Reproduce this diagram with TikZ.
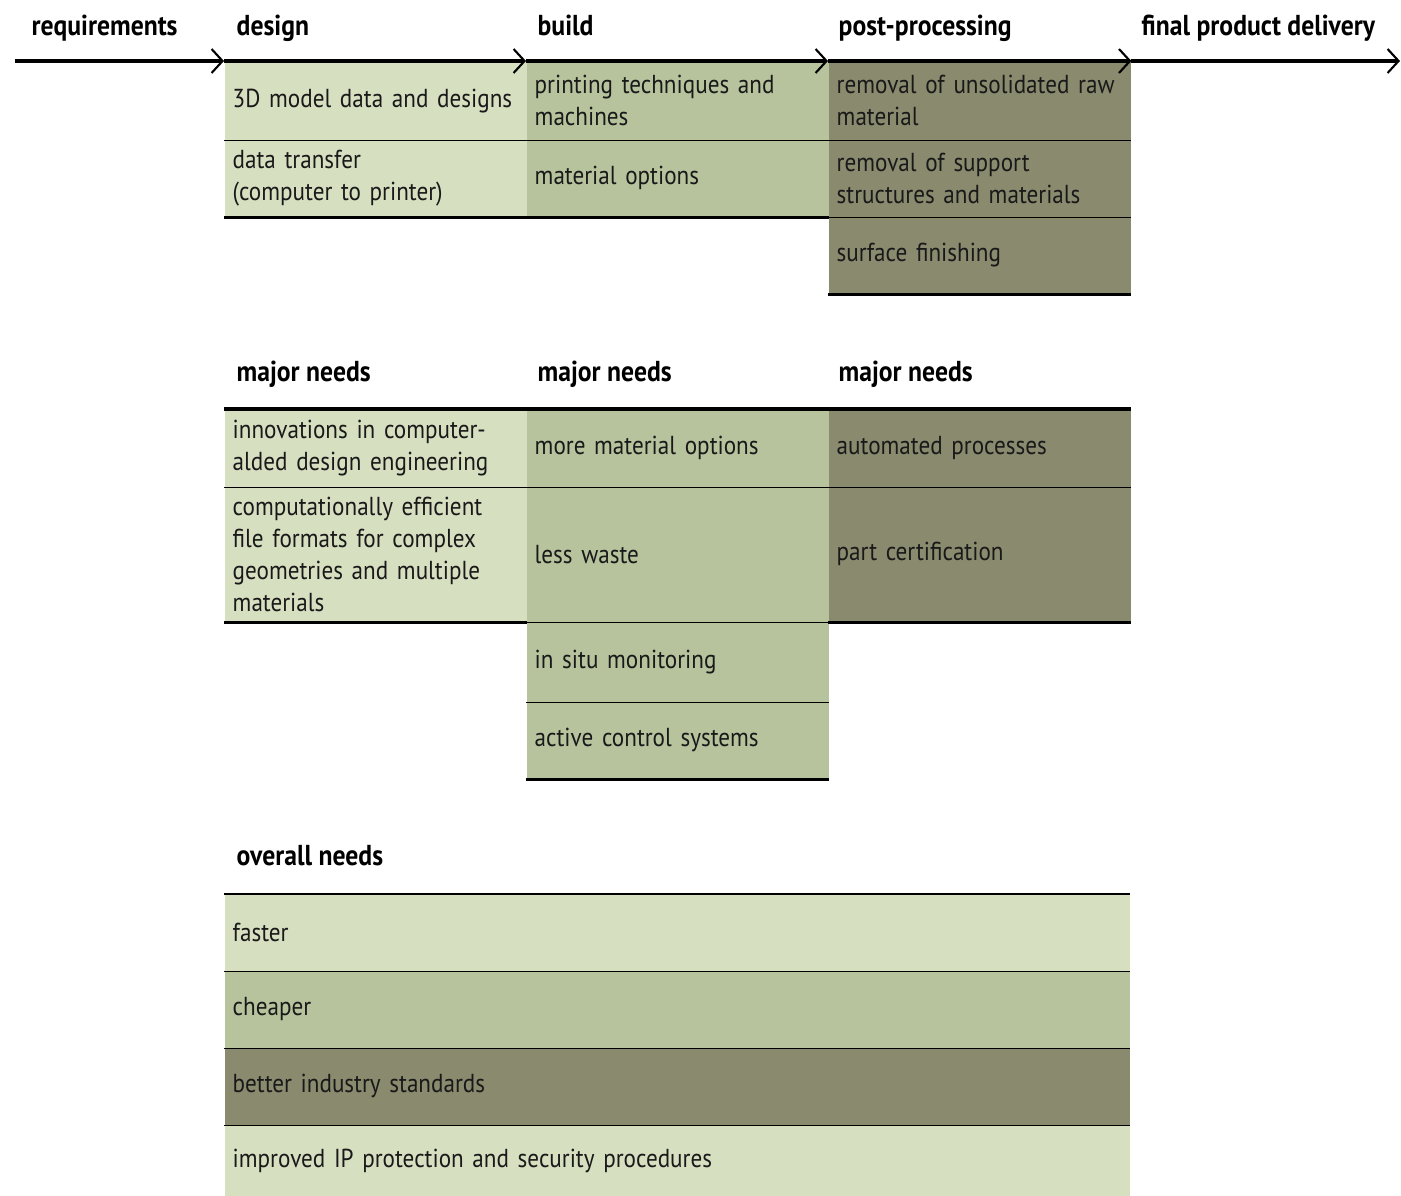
\documentclass[tikz,border=0pt]{standalone}
\usepackage{fontspec}
\setmainfont{PT Sans}[FakeStretch=0.89]
\usetikzlibrary{arrows.meta, positioning}

\definecolor{lightgreen}{RGB}{215,223,193}
\definecolor{midgreen}{RGB}{182,195,157}
\definecolor{darkgreen}{RGB}{138,138,110}

\newcommand{\cellfont}{\fontsize{7.4}{9.1}\selectfont\hyphenpenalty=10000\relax\exhyphenpenalty=10000\relax}
\newcommand{\hdfont}{\fontsize{8.2}{9}\selectfont\bfseries}

\begin{document}
\begin{tikzpicture}[>={Straight Barb[length=1.1mm, width=2.4mm, line width=0.6pt]},
      cell/.style={rectangle, anchor=north west, minimum width=3.02cm,
                   text width=2.86cm, inner xsep=0.08cm, inner ysep=0pt,
                   align=left, text=black!90, font=\cellfont},
      wide/.style={cell, minimum width=9.05cm, text width=8.89cm},
      light/.style={fill=lightgreen},
      mid/.style={fill=midgreen},
      dark/.style={fill=darkgreen},
      hd/.style={anchor=base west, inner sep=0pt, font=\hdfont},
      sep/.style={line width=0.45pt},
      edge/.style={line width=0.9pt}]

    \useasboundingbox (0,0) rectangle (14.01,-11.96);

    % --- phase headers ---
    \node[hd] (hreq)   at (0.31,-0.36) {requirements};
    \node[hd] (hdes)   at (2.36,-0.36) {design};
    \node[hd] (hbuild) at (5.37,-0.36) {build};
    \node[hd] (hpost)  at (8.38,-0.36) {post-processing};
    \node[hd] (hfinal) at (11.41,-0.36) {final product delivery};

    % --- process steps ---
    \node[cell, light, minimum height=0.78cm] (d1) at (2.24,-0.61) {3D model data and designs};
    \node[cell, light, minimum height=0.77cm] (d2) at (2.24,-1.39) {data transfer\\(computer to printer)};
    \node[cell, mid,   minimum height=0.78cm] (b1) at (5.26,-0.61) {printing techniques and\\machines};
    \node[cell, mid,   minimum height=0.77cm] (b2) at (5.26,-1.39) {material options};
    \node[cell, dark,  minimum height=0.78cm] (p1) at (8.28,-0.61) {removal of unsolidated raw\\material};
    \node[cell, dark,  minimum height=0.77cm] (p2) at (8.28,-1.39) {removal of support\\structures and materials};
    \node[cell, dark,  minimum height=0.77cm] (p3) at (8.28,-2.16) {surface finishing};

    % timeline
    \coordinate (tstart) at (0.15,-0.61);
    \coordinate (tend)   at (14.0,-0.61);
    \draw[edge, ->] (tstart) -- (d1.north west);
    \draw[edge, ->] (d1.north west) -- (b1.north west);
    \draw[edge, ->] (b1.north west) -- (p1.north west);
    \draw[edge, ->] (p1.north west) -- (p1.north east);
    \draw[edge, ->] (p1.north east) -- (tend);

    \draw[sep]  (d1.south west) -- (p1.south east);
    \draw[edge] (d2.south west) -- (b2.south east);
    \draw[sep]  (p2.south west) -- (p2.south east);
    \draw[edge] (p3.south west) -- (p3.south east);

    % --- major needs ---
    \node[hd] (mdes)   at (2.36,-3.82) {major needs};
    \node[hd] (mbuild) at (5.37,-3.82) {major needs};
    \node[hd] (mpost)  at (8.38,-3.82) {major needs};

    \node[cell, light, minimum height=0.77cm] (n1) at (2.24,-4.09) {innovations in computer-\\alded design engineering};
    \node[cell, light, minimum height=1.35cm] (n2) at (2.24,-4.86) {computationally efficient\\file formats for complex\\geometries and multiple\\materials};
    \node[cell, mid,   minimum height=0.77cm] (m1) at (5.26,-4.09) {more material options};
    \node[cell, mid,   minimum height=1.35cm] (m2) at (5.26,-4.86) {less waste};
    \node[cell, mid,   minimum height=0.80cm] (m3) at (5.26,-6.21) {in situ monitoring};
    \node[cell, mid,   minimum height=0.77cm] (m4) at (5.26,-7.01) {active control systems};
    \node[cell, dark,  minimum height=0.77cm] (q1) at (8.28,-4.09) {automated processes};
    \node[cell, dark,  minimum height=1.35cm] (q2) at (8.28,-4.86) {part certification};

    \draw[edge] (n1.north west) -- (q1.north east);
    \draw[sep]  (n1.south west) -- (q1.south east);
    \draw[edge] (n2.south west) -- (n2.south east);
    \draw[sep]  (m2.south west) -- (m2.south east);
    \draw[edge] (q2.south west) -- (q2.south east);
    \draw[sep]  (m3.south west) -- (m3.south east);
    \draw[edge] (m4.south west) -- (m4.south east);

    % --- overall needs ---
    \node[hd] (oall) at (2.36,-8.65) {overall needs};

    \node[wide, light, minimum height=0.76cm] (o1) at (2.24,-8.94) {faster};
    \node[wide, mid,   minimum height=0.77cm] (o2) at (2.24,-9.70) {cheaper};
    \node[wide, dark,  minimum height=0.77cm] (o3) at (2.24,-10.47) {better industry standards};
    \node[wide, light, minimum height=0.72cm] (o4) at (2.24,-11.24) {improved IP protection and security procedures};

    \draw[sep] (o1.north west) -- (o1.north east);
    \draw[sep] (o1.south west) -- (o1.south east);
    \draw[sep] (o2.south west) -- (o2.south east);
    \draw[sep] (o3.south west) -- (o3.south east);

\end{tikzpicture}
\end{document}
